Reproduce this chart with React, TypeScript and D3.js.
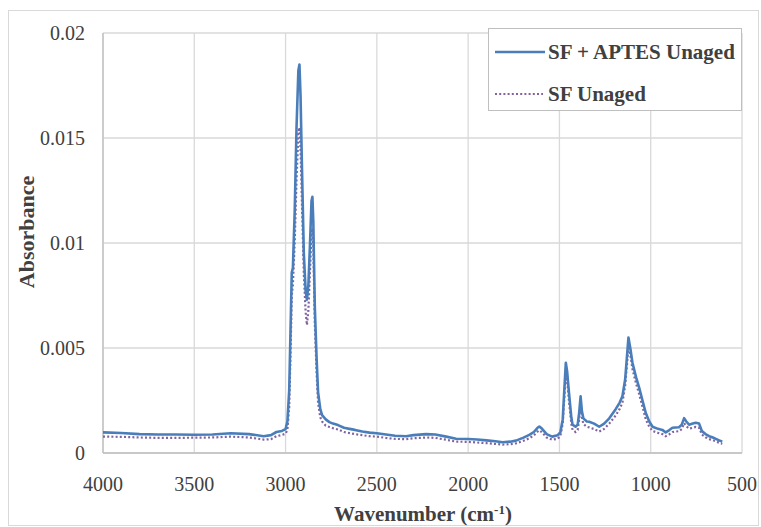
import React from "react";
import * as d3 from "d3";

const wavenumbers = [4000,3900,3800,3700,3600,3500,3400,3300,3200,3120,3080,3050,3020,3000,2990,2980,2972,2966,2960,2950,2940,2930,2924,2918,2910,2900,2890,2883,2875,2866,2858,2853,2848,2840,2830,2822,2810,2800,2780,2760,2740,2713,2680,2650,2620,2580,2540,2500,2450,2400,2340,2300,2230,2180,2120,2066,2000,1950,1900,1850,1811,1770,1738,1700,1665,1640,1620,1610,1595,1570,1540,1510,1495,1482,1472,1465,1458,1448,1435,1428,1412,1400,1392,1384,1377,1369,1350,1337,1310,1282,1255,1227,1191,1170,1155,1140,1130,1122,1112,1100,1080,1063,1045,1027,1008,990,960,936,918,900,881,845,830,817,805,790,770,753,735,720,700,680,663,640,620,608];

const sfAptes = [0.00098,0.00095,0.00090,0.00088,0.00088,0.00087,0.00088,0.00094,0.00090,0.00080,0.00085,0.00100,0.00105,0.00114,0.0015,0.0030,0.0062,0.0086,0.0088,0.0115,0.0155,0.0182,0.0185,0.0170,0.0135,0.0095,0.0077,0.0073,0.0080,0.0100,0.0120,0.0122,0.0110,0.0070,0.0045,0.0029,0.0021,0.0018,0.0016,0.00147,0.0014,0.00133,0.0012,0.00115,0.0011,0.00102,0.00097,0.00094,0.00088,0.00082,0.00080,0.00085,0.0009,0.00088,0.00078,0.00068,0.00067,0.00064,0.00060,0.00056,0.00051,0.00054,0.00059,0.00072,0.00086,0.00100,0.00120,0.00126,0.00115,0.00090,0.00078,0.00085,0.00098,0.0016,0.0032,0.0043,0.0039,0.0029,0.0017,0.00135,0.00125,0.00135,0.0019,0.0027,0.0020,0.00165,0.00150,0.00149,0.00140,0.00125,0.0014,0.00165,0.0021,0.0024,0.0027,0.0035,0.0046,0.0055,0.0050,0.0043,0.0036,0.0031,0.0025,0.0019,0.00150,0.00125,0.00115,0.0011,0.00098,0.00108,0.00120,0.00123,0.00135,0.00166,0.00150,0.00135,0.00140,0.00144,0.00140,0.00105,0.00090,0.00080,0.00075,0.00066,0.00058,0.00054];

const sfUnaged = [0.00078,0.00077,0.00074,0.00072,0.00072,0.00073,0.00074,0.00078,0.00074,0.00064,0.00066,0.00080,0.00086,0.00092,0.0011,0.0022,0.0050,0.0075,0.0080,0.0100,0.0130,0.0152,0.0155,0.0145,0.0118,0.0085,0.0067,0.0061,0.0068,0.0087,0.0104,0.0107,0.0098,0.0062,0.0038,0.0024,0.0017,0.0015,0.0013,0.00124,0.00118,0.00112,0.00100,0.00095,0.00090,0.00085,0.00080,0.00078,0.00072,0.00067,0.00066,0.00070,0.00074,0.00072,0.00063,0.00054,0.00053,0.00050,0.00047,0.00043,0.00040,0.00042,0.00046,0.00057,0.00070,0.00084,0.00102,0.00108,0.00098,0.00074,0.00063,0.00068,0.00080,0.0014,0.0028,0.0038,0.0035,0.0025,0.0014,0.00110,0.00100,0.00110,0.0016,0.0023,0.0017,0.00138,0.00125,0.00122,0.00114,0.00102,0.00115,0.00140,0.0018,0.0021,0.0024,0.0032,0.0042,0.0051,0.0047,0.0040,0.0033,0.0028,0.0022,0.0016,0.00125,0.00105,0.00096,0.00090,0.00080,0.00088,0.00100,0.00104,0.00114,0.00142,0.00128,0.00116,0.00120,0.00124,0.00120,0.00088,0.00075,0.00066,0.00062,0.00054,0.00047,0.00044];

const xTicks = [4000,3500,3000,2500,2000,1500,1000,500];
const yTicks = [0,0.005,0.01,0.015,0.02];
const seriesNames = ["SF + APTES Unaged", "SF Unaged"];

const FONT = "Liberation Serif, Times New Roman, DejaVu Serif, serif";

export default function App() {
  const W = 761, H = 527;
  const left = 103, right = 742, top = 33, bottom = 453;
  const x = d3.scaleLinear().domain([4000, 500]).range([left, right]);
  const y = d3.scaleLinear().domain([0, 0.02]).range([bottom, top]);
  const line = d3.line<number>().x((_, i) => x(wavenumbers[i])).y(d => y(d));
  const ts: React.CSSProperties = { fontFamily: FONT };
  return (
    <svg width={W} height={H} style={{ position: "absolute", left: 0, top: 0, background: "#fff", fontFamily: FONT }}>
      <rect x={8.5} y={10.5} width={750} height={515} fill="#fff" stroke="#d9d9d9" />
      {xTicks.map(t => (
        <line key={"gx" + t} x1={x(t)} x2={x(t)} y1={top} y2={bottom} stroke="#d9d9d9" strokeWidth={1.3} />
      ))}
      {yTicks.map(t => (
        <line key={"gy" + t} x1={left} x2={right} y1={y(t)} y2={y(t)} stroke="#d9d9d9" strokeWidth={1.3} />
      ))}
      <line x1={left} x2={left} y1={top} y2={bottom} stroke="#bfbfbf" strokeWidth={1.3} />
      <line x1={left} x2={right} y1={bottom} y2={bottom} stroke="#bfbfbf" strokeWidth={1.3} />
      {yTicks.map(t => (
        <text key={"ty" + t} x={85} y={y(t) + 7} textAnchor="end" fontSize={20} fill="#404040" style={ts}>{String(t)}</text>
      ))}
      {xTicks.map(t => (
        <text key={"tx" + t} x={x(t)} y={491} textAnchor="middle" fontSize={20} fill="#404040" style={ts}>{t}</text>
      ))}
      <text x={0} y={0} transform={`translate(34,232) rotate(-90)`} textAnchor="middle" fontSize={22} fontWeight="bold" fill="#404040" style={ts}>Absorbance</text>
      <text x={423} y={521} textAnchor="middle" fontSize={21} fontWeight="bold" fill="#404040" style={ts}>
        Wavenumber (cm<tspan dy={-7} fontSize={13}>-1</tspan><tspan dy={7}>)</tspan>
      </text>
      <path d={line(sfUnaged) || ""} fill="none" stroke="#8064a2" strokeWidth={2.2} strokeDasharray="2,2.2" />
      <path d={line(sfAptes) || ""} fill="none" stroke="#4a7ebb" strokeWidth={2.6} strokeLinejoin="round" />
      <rect x={488.5} y={28.5} width={253} height={82} fill="#fff" stroke="#bfbfbf" />
      <line x1={495} x2={545} y1={52} y2={52} stroke="#4a7ebb" strokeWidth={2.6} />
      <line x1={495} x2={543} y1={94} y2={94} stroke="#8064a2" strokeWidth={2.2} strokeDasharray="2,2.2" />
      <text x={548} y={59} fontSize={21} fontWeight="bold" fill="#404040" style={ts}>{seriesNames[0]}</text>
      <text x={548} y={101} fontSize={21} fontWeight="bold" fill="#404040" style={ts}>{seriesNames[1]}</text>
    </svg>
  );
}
